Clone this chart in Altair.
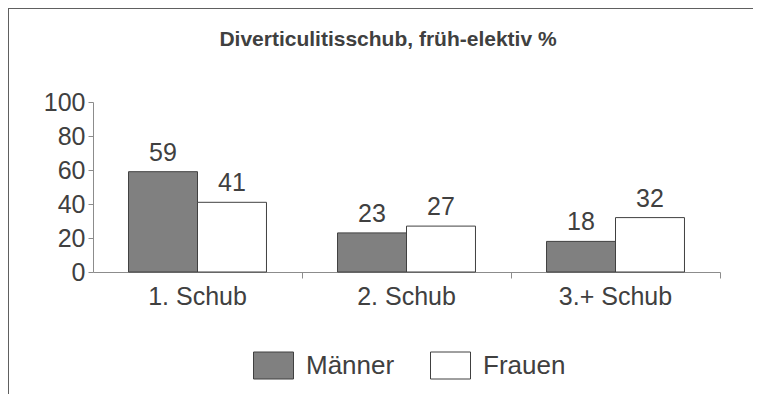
import altair as alt
import pandas as pd

categories = ["1. Schub", "2. Schub", "3.+ Schub"]
groups = ["Männer", "Frauen"]
maenner = [59, 23, 18]
frauen = [41, 27, 32]
y_ticks = [0, 20, 40, 60, 80, 100]
title_text = "Diverticulitisschub, früh-elektiv %"

rows = []
for c, m, f in zip(categories, maenner, frauen):
    rows.append({"Kategorie": c, "Geschlecht": "Männer", "Wert": m})
    rows.append({"Kategorie": c, "Geschlecht": "Frauen", "Wert": f})
df = pd.DataFrame(rows)

TXT = "#404040"
AX = "#8c8c8c"
FONT = "Liberation Sans"
W, H = 627, 170

x_enc = alt.X(
    "Kategorie:N",
    sort=categories,
    scale=alt.Scale(paddingInner=0, paddingOuter=0),
    axis=alt.Axis(
        title=None, bandPosition=1, tickSize=6,
        labelPadding=6, labelFontSize=25, labelColor=TXT, labelFont=FONT,
        domainColor=AX, tickColor=AX, labelAngle=0,
    ),
)
xo_enc = alt.XOffset("Geschlecht:N", sort=groups,
                     scale=alt.Scale(paddingInner=0, paddingOuter=0.515))
y_enc = alt.Y(
    "Wert:Q",
    scale=alt.Scale(domain=[0, 100], nice=False),
    axis=alt.Axis(
        title=None, values=y_ticks, grid=False, tickSize=5, labelPadding=3,
        labelFontSize=25, labelColor=TXT, labelFont=FONT,
        labelOverlap=False, labelFlush=False, labelBound=False,
        domainColor=AX, tickColor=AX,
    ),
)

base = alt.Chart(df).encode(x=x_enc, xOffset=xo_enc, y=y_enc)

bars = base.mark_bar(stroke=TXT, strokeWidth=1).encode(
    color=alt.Color(
        "Geschlecht:N",
        sort=groups,
        scale=alt.Scale(domain=groups, range=["#808080", "#ffffff"]),
        legend=alt.Legend(
            title=None, orient="none", direction="horizontal",
            legendX=160, legendY=243,
            symbolType="M-1,-0.675L1,-0.675L1,0.675L-1,0.675Z",
            symbolSize=1600, symbolStrokeColor=TXT, symbolStrokeWidth=1,
            symbolOpacity=1,
            labelFontSize=26, labelColor=TXT, labelFont=FONT,
            labelOffset=12, columnPadding=33,
        ),
    ),
)

labels = base.mark_text(
    baseline="bottom", dy=-6, fontSize=25, color=TXT, font=FONT
).encode(text="Wert:Q")

title = alt.Chart(pd.DataFrame({"t": [title_text]})).mark_text(
    fontSize=21, fontWeight="bold", color=TXT, font=FONT,
    align="center", baseline="alphabetic",
).encode(x=alt.value(295), y=alt.value(-56), text="t:N")

frame_top = alt.Chart(df).mark_rule(color="#606060", strokeWidth=2).encode(
    x=alt.value(-85), x2=alt.value(W + 40), y=alt.value(-94)
)
frame_left = alt.Chart(df).mark_rule(color="#606060", strokeWidth=2).encode(
    x=alt.value(-85), y=alt.value(-94), y2=alt.value(H + 130)
)

chart = alt.layer(bars, labels, title, frame_top, frame_left).properties(
    width=W,
    height=H,
    padding={"left": 85, "top": 94, "right": 33, "bottom": 122},
    autosize=alt.AutoSizeParams(type="none"),
).configure_view(stroke=None)

chart.save("out.html", embed_options={"renderer": "svg", "actions": False})
